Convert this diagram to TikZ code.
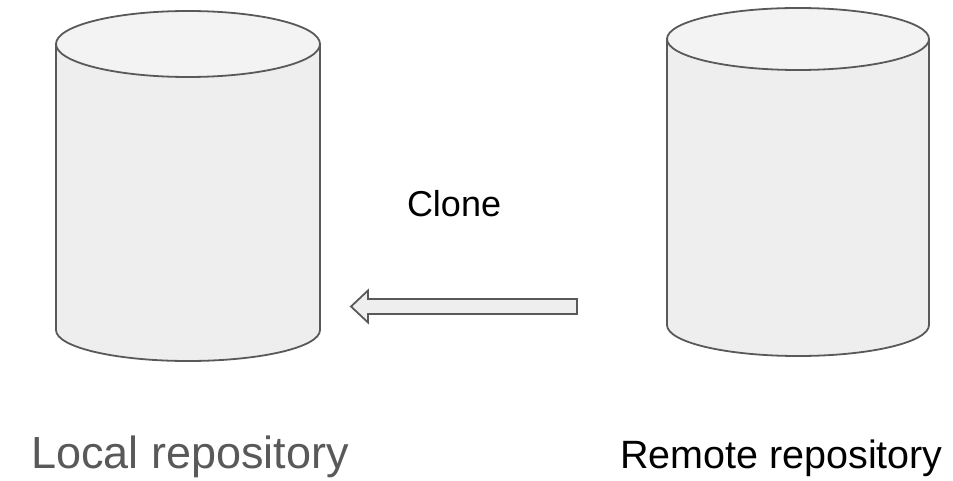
\documentclass[tikz,border=0pt]{standalone}
\usepackage{fontspec}
\setmainfont{Liberation Sans}
\definecolor{edge}{HTML}{595959}
\definecolor{topfill}{HTML}{F3F3F3}
\definecolor{sidefill}{HTML}{EEEEEE}
\definecolor{labelgray}{HTML}{595959}
\tikzset{
  cylside/.style={draw=edge, fill=sidefill, line width=1.8pt},
  cyltop/.style={draw=edge, fill=topfill, line width=1.8pt},
  arrowbody/.style={draw=edge, fill=sidefill, line width=1.8pt, line join=miter},
  labeltext/.style={anchor=base west, inner sep=0pt, outer sep=0pt},
}
\begin{document}
\begin{tikzpicture}[x=1pt, y=-1pt]
\useasboundingbox (0,0) rectangle (953,481);
% local cylinder
\coordinate (lt) at (188,44);
\coordinate (lb) at (188,330);
\draw[cylside] (56,44) -- (56,330) arc[start angle=180, end angle=360, x radius=132, y radius=-31] -- (320,44) -- cycle;
\draw[cyltop] (lt) ellipse[x radius=132, y radius=33];
% remote cylinder
\coordinate (rt) at (798,39);
\coordinate (rb) at (798,325);
\draw[cylside] (667,39) -- (667,325) arc[start angle=180, end angle=360, x radius=131, y radius=-31] -- (929,39) -- cycle;
\draw[cyltop] (rt) ellipse[x radius=131, y radius=31];
% clone arrow
\coordinate (tip) at (351,306.5);
\coordinate (tail) at (577,306.5);
\draw[arrowbody] (tip) -- (368,290.5) -- (368,299) -- (577,299) -- (577,314) -- (368,314) -- (368,322.5) -- cycle;
% labels
\node[labeltext, font=\fontsize{36}{43}\selectfont] (clone) at (407,217) {Clone};
\node[labeltext, font=\fontsize{45}{54}\selectfont, text=labelgray] (local) at (31,468) {Local repository};
\node[labeltext, font=\fontsize{39.5}{47}\selectfont] (remote) at (620,468) {Remote repository};
\end{tikzpicture}
\end{document}
